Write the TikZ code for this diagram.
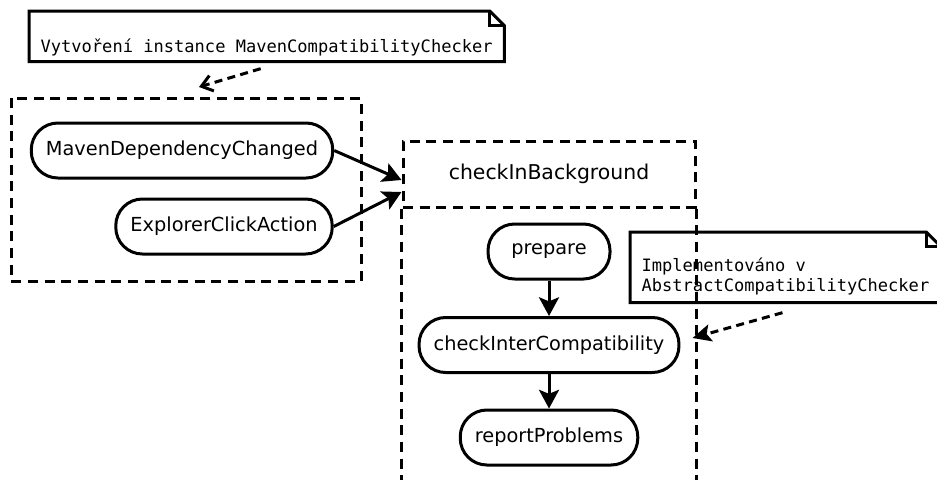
\documentclass[tikz,border=0pt]{standalone}
\usepackage{fontspec}
\setmainfont{DejaVu Sans}
\setmonofont{DejaVu Sans Mono}
\usetikzlibrary{arrows.meta,calc}

\begin{document}
\begin{tikzpicture}[x=0.75pt,y=-0.75pt,
  act/.style={draw,line width=2.25pt,rounded corners=20pt,minimum height=41.25pt,
    minimum width=91.5pt,inner xsep=11pt,font=\fontsize{14.5}{17}\selectfont},
  dashbox/.style={line width=2.25pt,dash pattern=on 7.5pt off 5pt},
  note/.style={anchor=north west,inner xsep=8.5pt,inner ysep=2.5pt,align=left,
    font=\ttfamily\fontsize{12.8}{15}\selectfont},
  notebox/.style={line width=2.25pt,line join=miter},
  flow/.style={line width=2.25pt,-{Stealth[length=14pt,width=15pt,inset=3pt]}}]
\useasboundingbox (0,0) rectangle (937,479);
% trigger group
\draw[dashbox] (11,98) rectangle (361,281);
\node[act] (maven) at (182,150.5) {MavenDependencyChanged};
\node[act] (explorer) at (224,226.5) {ExplorerClickAction};
% checkInBackground column
\node[draw,dashbox,minimum width=219pt,minimum height=49.5pt,font=\fontsize{15.3}{18}\selectfont]
  (bg) at (549,174) {checkInBackground};
\draw[dashbox] (bg.south west) -- ++(0,275);
\draw[dashbox] (bg.south east) -- ++(0,275);
\node[act] (prepare) at (549,251.5) {prepare};
\node[act] (inter) at (549,345) {checkInterCompatibility};
\node[act] (report) at (549,437.5) {reportProblems};
\draw[flow] (maven.east) -- ($(bg.west)+(0,6)$);
\draw[flow] (explorer.east) -- ($(bg.west)+(0,18)$);
\draw[flow] (prepare) -- (inter);
\draw[flow] (inter) -- (report);
% notes
\node[note] (n1) at (29,11) {\rule[-4.3pt]{0pt}{32.6pt}Vytvoření instance MavenCompatibilityChecker};
\node[note] (n2) at (630,232) {\rule{0pt}{26.8pt}Implementováno v\\\rule[-5.8pt]{0pt}{5.8pt}AbstractCompatibilityChecker};
\foreach \n in {n1,n2}{
  \draw[notebox] (\n.north west) -- ([xshift=-11pt]\n.north east) -- ([yshift=-11pt]\n.north east)
    -- (\n.south east) -- (\n.south west) -- cycle;
  \draw[notebox] ([xshift=-11pt]\n.north east) |- ([yshift=-11pt]\n.north east);}
\coordinate (c1) at (199,87);
\draw[line width=2.25pt,dash pattern=on 6pt off 4pt,-{Straight Barb[length=8pt,width=12pt]}]
  ($(n1.south)+(-6,7)$) -- (c1);
\draw[line width=2.25pt,dash pattern=on 6pt off 4pt,-{Stealth[length=14pt,width=13pt,inset=3pt]}]
  ($(n2.south)+(-3,10)$) -- ($(inter.east)+(12,-7)$);
\end{tikzpicture}
\end{document}
